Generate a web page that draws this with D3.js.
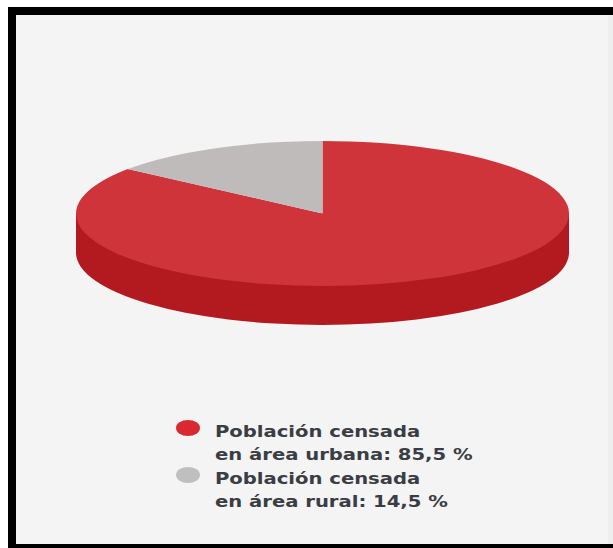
<!DOCTYPE html>
<html lang="es">
<head>
<meta charset="utf-8">
<script src="https://cdn.jsdelivr.net/npm/d3@7"></script>
<style>
html,body{margin:0;padding:0;background:#fff}
svg{display:block}
text{font-family:"DejaVu Sans",sans-serif;font-weight:700;font-size:16px;fill:#3a3e44}
</style>
</head>
<body>
<svg id="chart" width="613" height="548"></svg>
<script>
const categories = ["Población censada en área urbana", "Población censada en área rural"];
const values = [85.5, 14.5];
const legendLines = [
  ["Población censada", "en área urbana: 85,5 %"],
  ["Población censada", "en área rural: 14,5 %"]
];
const topColors = ["#cf343b", "#c0bbbb"];
const legendColors = ["#d9282f", "#bfbfbf"];
const wallColor = "#b31a20";

const svg = d3.select("#chart");

// Frame
svg.append("rect").attr("x",8).attr("y",7).attr("width",605).attr("height",541).attr("fill","#000");
svg.append("rect").attr("x",16).attr("y",15).attr("width",597).attr("height",529).attr("fill","#f4f4f4");
svg.append("rect").attr("x",608).attr("y",15).attr("width",5).attr("height",529).attr("fill","#eeeeee");

// Pie geometry
const cx = 322.5, cy = 213.5, rx = 246.5, ry = 72.5, depth = 39;

// Side wall
svg.append("path")
  .attr("fill", wallColor)
  .attr("d", `M${cx-rx},${cy} L${cx-rx},${cy+depth} A${rx},${ry} 0 0 0 ${cx+rx},${cy+depth} L${cx+rx},${cy} Z`);

// Top face: d3.pie angles, drawn as a unit arc squashed to an ellipse
const pie = d3.pie().sort(null).value(d => d);
const arc = d3.arc().innerRadius(0).outerRadius(1);
svg.append("g")
  .attr("transform", `translate(${cx},${cy}) scale(${rx},${ry})`)
  .selectAll("path")
  .data(pie(values))
  .join("path")
  .attr("d", arc)
  .attr("fill", (d,i) => topColors[i]);

// Legend
const rowY = d3.scaleOrdinal().domain([0,1]).range([428, 475]);
const legend = svg.append("g");
const item = legend.selectAll("g").data(categories).join("g");
item.append("ellipse")
  .attr("cx", 188).attr("cy", (d,i) => rowY(i))
  .attr("rx", 12).attr("ry", 8)
  .attr("fill", (d,i) => legendColors[i]);
item.each(function(d,i){
  d3.select(this).selectAll("text").data(legendLines[i]).join("text")
    .attr("transform", (t,j) => `translate(215,${rowY(i) + 9 + j*22.5}) scale(1.225,1)`)
    .text(t => t);
});
</script>
</body>
</html>
